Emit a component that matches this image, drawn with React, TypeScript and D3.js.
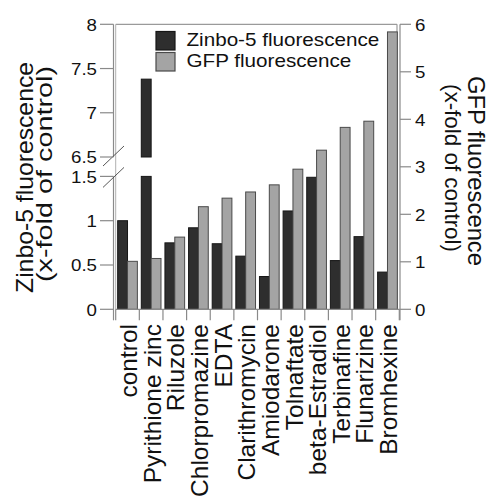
import React from "react"
import * as d3 from "d3"

const categories = ["control", "Pyrithione zinc", "Riluzole", "Chlorpromazine", "EDTA", "Clarithromycin",
  "Amiodarone", "Tolnaftate", "beta-Estradiol", "Terbinafine", "Flunarizine", "Bromhexine"]
const zinbo = [1.0, 7.38, 0.75, 0.92, 0.74, 0.60, 0.37, 1.11, 1.49, 0.55, 0.82, 0.42]
const gfp = [1.01, 1.07, 1.52, 2.16, 2.34, 2.47, 2.62, 2.95, 3.35, 3.83, 3.96, 5.84]
const ticksLow = [0, 0.5, 1, 1.5]
const ticksHigh = [6.5, 7, 7.5, 8]
const ticksRight = [0, 1, 2, 3, 4, 5, 6]

const FONT = "'Liberation Sans', Arial, sans-serif"

export default function App() {
  const left = 115.7, right = 399.3
  const x0 = d3.scaleBand<string>().domain(categories).range([left, right]).padding(0)
  const x1 = d3.scaleBand<string>().domain(["z", "g"]).range([0, x0.bandwidth()]).paddingInner(0).paddingOuter(0.2)

  const yLow = d3.scaleLinear().domain([0, 1.5]).range([309.3, 176.4])
  const yHigh = d3.scaleLinear().domain([6.5, 8]).range([157, 24.3])
  const yR = d3.scaleLinear().domain([0, 6]).range([309.3, 24.3])

  const axisL = 113.5
  const axisR = 400
  const gray = "#8a8a8a"

  const zinboRects: { x: number; y0: number; y1: number }[] = []
  categories.forEach((c, i) => {
    const v = zinbo[i]
    const x = (x0(c) as number) + (x1("z") as number)
    if (v <= 1.5) {
      zinboRects.push({ x, y0: yLow(0), y1: yLow(v) })
    } else {
      zinboRects.push({ x, y0: yLow(0), y1: yLow(1.5) })
      zinboRects.push({ x, y0: yHigh(6.5), y1: yHigh(v) })
    }
  })

  const tickLabelStyle = { fontFamily: FONT, fontSize: 16, fill: "#111" }

  return (
    <svg width={494} height={499} style={{ position: "absolute", left: 0, top: 0, background: "#fff" }}>
      {/* plot frame */}
      <line x1={left} x2={397} y1={yR(6)} y2={yR(6)} stroke="#9a9a9a" strokeWidth={1.2} />
      <line x1={397} x2={397} y1={yR(6)} y2={yR(0)} stroke="#9a9a9a" strokeWidth={1.2} />
      <line x1={left} x2={left} y1={yR(6)} y2={yR(0)} stroke="#b0b0b0" strokeWidth={1} />

      {/* bars */}
      {zinboRects.map((r, i) => (
        <rect key={"z" + i} x={r.x} y={r.y1} width={x1.bandwidth()} height={r.y0 - r.y1}
          fill="#2e2e2e" stroke="#161616" strokeWidth={1} />
      ))}
      {categories.map((c, i) => (
        <rect key={"g" + i} x={(x0(c) as number) + (x1("g") as number)} y={yR(gfp[i])}
          width={x1.bandwidth()} height={yR(0) - yR(gfp[i])}
          fill="#a4a4a4" stroke="#4a4a4a" strokeWidth={1} />
      ))}

      {/* x axis */}
      <line x1={left} x2={axisR} y1={yR(0)} y2={yR(0)} stroke={gray} strokeWidth={1.2} />
      {[...categories.map(c => x0(c) as number), right].map((x, i) => (
        <line key={"xt" + i} x1={x} x2={x} y1={yR(0)} y2={yR(0) + 11} stroke={gray} strokeWidth={1.2} />
      ))}
      {categories.map(c => (
        <text key={"xl" + c} transform={`translate(${(x0(c) as number) + x0.bandwidth() / 2 + 1},324) rotate(-90)`}
          textAnchor="end" dy="0.35em" style={{ fontFamily: FONT, fontSize: 24.5, fill: "#111" }}>{c}</text>
      ))}

      {/* left axis (broken) */}
      <line x1={axisL} x2={axisL} y1={yHigh(8)} y2={yHigh(6.5)} stroke={gray} strokeWidth={1.2} />
      <line x1={axisL} x2={axisL} y1={yLow(1.5)} y2={yLow(0) + 11} stroke={gray} strokeWidth={1.2} />
      {[yHigh(6.5) - 1, yLow(1.5) + 1].map((y, i) => (
        <line key={"br" + i} x1={axisL - 10.5} x2={axisL + 10.5} y1={y + 10} y2={y - 10} stroke="#444" strokeWidth={0.9} />
      ))}
      {[...ticksHigh.map(t => ({ t, y: yHigh(t) })), ...ticksLow.map(t => ({ t, y: yLow(t) }))].map(({ t, y }) => (
        <g key={"yl" + t}>
          <line x1={axisL - 13.5} x2={axisL} y1={y} y2={y} stroke={gray} strokeWidth={1.2} />
          <text transform={`translate(97,${y}) scale(1.17,1)`} textAnchor="end" dy="0.4em" style={tickLabelStyle}>{t}</text>
        </g>
      ))}
      <text transform={`translate(33,177.5) rotate(-90)`} textAnchor="middle" textLength={231} lengthAdjust="spacingAndGlyphs"
        style={{ fontFamily: FONT, fontSize: 24.5, fill: "#111" }}>Zinbo-5 fluorescence</text>
      <text transform={`translate(52,174) rotate(-90)`} textAnchor="middle" textLength={216} lengthAdjust="spacingAndGlyphs"
        style={{ fontFamily: FONT, fontSize: 22, fill: "#111" }}>(x-fold of control)</text>

      {/* right axis */}
      <line x1={axisR} x2={axisR} y1={yR(6)} y2={yR(0) + 11} stroke={gray} strokeWidth={1.2} />
      {ticksRight.map(t => (
        <g key={"yr" + t}>
          <line x1={axisR} x2={axisR + 11} y1={yR(t)} y2={yR(t)} stroke={gray} strokeWidth={1.2} />
          <text transform={`translate(415,${yR(t)}) scale(1.17,1)`} textAnchor="start" dy="0.4em" style={tickLabelStyle}>{t}</text>
        </g>
      ))}
      <text transform={`translate(468,171) rotate(90)`} textAnchor="middle" textLength={190} lengthAdjust="spacingAndGlyphs"
        style={{ fontFamily: FONT, fontSize: 24, fill: "#111" }}>GFP fluorescence</text>
      <text transform={`translate(445,168) rotate(90)`} textAnchor="middle" textLength={168} lengthAdjust="spacingAndGlyphs"
        style={{ fontFamily: FONT, fontSize: 22, fill: "#111" }}>(x-fold of control)</text>

      {/* legend */}
      {[{ label: "Zinbo-5 fluorescence", fill: "#2e2e2e", stroke: "#161616" },
        { label: "GFP fluorescence", fill: "#a4a4a4", stroke: "#4a4a4a" }].map((d, i) => (
        <g key={"lg" + i} transform={`translate(156,${31.5 + i * 21})`}>
          <rect x={0} y={0} width={19} height={18.5} fill={d.fill} stroke={d.stroke} strokeWidth={1.2} />
          <text transform={`translate(30.5,14) scale(1.18,1)`} style={{ fontFamily: FONT, fontSize: 17.5, fill: "#111" }}>{d.label}</text>
        </g>
      ))}
    </svg>
  )
}
